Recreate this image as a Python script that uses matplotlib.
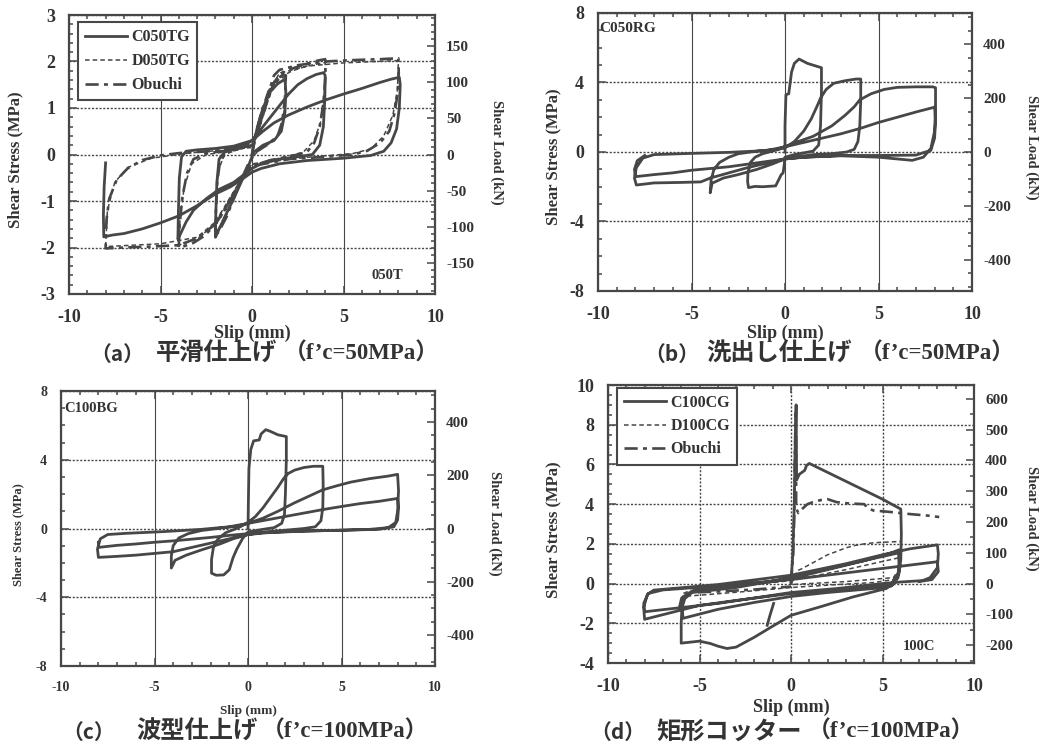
import numpy as np
import matplotlib
matplotlib.use('Agg')
import matplotlib.pyplot as plt
from matplotlib.ticker import MultipleLocator, AutoMinorLocator

plt.rcParams['font.family'] = ['Liberation Serif', 'Noto Sans CJK JP']
plt.rcParams['font.weight'] = 'bold'
plt.rcParams['axes.unicode_minus'] = False

LINE = '#474747'
TEXT = '#333333'
KN_PER_MPA = 64.5  # shear load / shear stress

# (a) smooth finish, f'c=50MPa  -- (slip mm, stress MPa)
a_c050tg = [(0,0),(0.1,0.25),(0.3,0.6),(0.6,1.0),(1.0,1.35),(1.4,1.52),(1.8,1.62),(1.85,1.35),(1.8,0.9),(1.6,0.5),(1.2,0.3),(0.6,0.2),(0.1,0.05),(-0.2,-0.25),
            (-0.6,-0.6),(-1.0,-0.95),(-1.5,-1.35),(-1.85,-1.65),(-2.0,-1.78),(-1.98,-1.3),(-1.92,-0.6),(-1.8,-0.1),(-1.5,0.05),(-1.0,0.12),(-0.4,0.2),(0,0.3),
            (0.5,0.55),(1.0,0.8),(1.5,1.05),(2.0,1.3),(2.5,1.5),(3.0,1.63),(3.5,1.72),(3.9,1.76),(4.0,1.7),(3.98,1.2),(3.9,0.6),(3.7,0.2),(3.3,0.0),(2.5,-0.05),(1.5,-0.1),(0.5,-0.2),(0,-0.3),
            (-0.5,-0.45),(-1.0,-0.6),(-1.8,-0.75),(-2.5,-0.95),(-3.2,-1.2),(-3.6,-1.45),(-3.9,-1.7),(-4.05,-1.82),(-4.02,-1.2),(-3.97,-0.5),(-3.85,-0.05),(-3.6,0.07),(-3.0,0.1),(-2.0,0.13),(-1.0,0.18),(0,0.3),
            (0.6,0.5),(1.2,0.68),(2.0,0.85),(3.0,1.02),(4.0,1.17),(5.0,1.3),(6.0,1.42),(7.0,1.55),(7.6,1.62),(8.05,1.66),(8.1,1.5),(8.05,1.0),(7.9,0.55),(7.6,0.25),(7.2,0.07),(6.5,-0.02),(5.0,-0.08),(3.0,-0.13),(1.5,-0.2),(0.5,-0.3),(0,-0.38),
            (-0.6,-0.55),(-1.2,-0.7),(-2.0,-0.85),(-3.0,-1.1),(-4.0,-1.32),(-5.0,-1.47),(-6.0,-1.6),(-7.0,-1.7),(-7.6,-1.73),(-8.1,-1.77),(-8.12,-1.3),(-8.08,-0.7),(-8.0,-0.18)]
a_d050tg = [(0,0),(0.3,0.5),(0.7,1.05),(1.1,1.45),(1.5,1.62),(1.85,1.68),(1.82,1.1),(1.6,0.55),(1.2,0.3),(0.5,0.12),(0,-0.05),
            (-0.5,-0.5),(-1.0,-0.95),(-1.5,-1.4),(-2.0,-1.7),(-1.95,-1.0),(-1.85,-0.35),(-1.5,0.0),(-0.8,0.1),(0,0.2),
            (0.5,0.7),(1.0,1.3),(1.5,1.65),(2.2,1.8),(3.0,1.9),(4.0,1.98),(3.95,1.3),(3.75,0.7),(3.4,0.3),(2.8,0.05),(1.5,-0.08),(0,-0.22),
            (-0.7,-0.6),(-1.5,-1.15),(-2.2,-1.55),(-3.0,-1.82),(-4.0,-1.95),(-3.92,-1.3),(-3.7,-0.7),(-3.3,-0.2),(-2.5,0.0),(-1.0,0.08),(0,0.18),
            (0.5,0.75),(1.0,1.4),(1.5,1.75),(3.0,1.9),(5.0,1.97),(8.0,2.02),(7.95,1.4),(7.7,0.85),(7.2,0.4),(6.5,0.12),(5.5,0.02),(3.0,-0.06),(0,-0.2),
            (-1.0,-0.8),(-2.0,-1.45),(-3.0,-1.78),(-5.0,-1.92),(-8.0,-1.98),(-7.9,-1.2),(-7.5,-0.6),(-6.8,-0.28),(-5.5,-0.08),(-3.5,0.03),(0,0.15)]
a_obuchi = [(0,0),(0.2,0.4),(0.5,0.9),(0.9,1.35),(1.3,1.6),(1.7,1.72),(1.85,1.7),(1.8,1.2),(1.65,0.7),(1.4,0.4),(0.8,0.2),(0.2,0.05),(-0.2,-0.2),
            (-0.6,-0.55),(-1.0,-0.95),(-1.4,-1.35),(-1.8,-1.65),(-2.0,-1.75),(-1.97,-1.2),(-1.9,-0.6),(-1.75,-0.15),(-1.4,0.05),(-0.8,0.15),(0,0.25),
            (0.4,0.6),(0.8,1.1),(1.2,1.55),(1.6,1.75),(2.2,1.85),(3.0,1.95),(3.6,2.02),(4.0,2.05),(4.02,1.7),(3.9,1.1),(3.7,0.6),(3.4,0.25),(3.0,0.05),(2.0,-0.05),(1.0,-0.12),(0,-0.25),
            (-0.5,-0.5),(-1.0,-0.85),(-1.5,-1.2),(-2.0,-1.5),(-2.6,-1.75),(-3.2,-1.9),(-3.7,-1.97),(-4.0,-2.0),(-3.95,-1.5),(-3.8,-0.9),(-3.55,-0.4),(-3.2,-0.1),(-2.5,0.02),(-1.5,0.08),(0,0.2),
            (0.4,0.6),(0.8,1.2),(1.2,1.7),(1.5,1.82),(2.5,1.92),(4.0,2.0),(5.5,2.03),(7.0,2.05),(8.0,2.07),(8.02,1.75),(7.95,1.3),(7.8,0.9),(7.5,0.5),(7.0,0.25),(6.3,0.08),(5.5,0.0),(4.0,-0.05),(2.0,-0.1),(0,-0.25),
            (-0.5,-0.5),(-1.0,-0.85),(-1.5,-1.2),(-2.0,-1.5),(-3.0,-1.8),(-4.0,-1.95),(-5.5,-1.98),(-7.0,-2.0),(-8.0,-2.02),(-7.95,-1.4),(-7.8,-0.95),(-7.4,-0.55),(-6.8,-0.3),(-6.0,-0.12),(-5.0,-0.02),(-4.0,0.03),(-2.0,0.08),(0,0.2)]

# (b) exposed aggregate finish, f'c=50MPa
b_c050rg = [(0,0),(0.0,1.5),(0.05,3.3),(0.2,3.35),(0.35,4.6),(0.5,5.1),(0.75,5.35),(1.2,5.1),(1.8,4.9),(1.95,4.85),(1.95,3.5),(1.9,1.5),(1.8,0.4),(1.5,0.05),(1.0,-0.05),(0.5,-0.15),(0,-0.3),(-0.05,-0.8),(-0.1,-1.2),
            (-0.2,-1.3),(-0.5,-1.95),(-1.2,-2.0),(-1.6,-1.98),(-1.95,-2.05),(-2.0,-1.7),(-1.98,-1.2),(-1.85,-0.6),(-1.6,-0.3),(-1.2,-0.1),(-0.5,0.1),(0,0.25),
            (0.5,0.6),(1.0,1.2),(1.4,1.9),(1.7,2.6),(1.9,3.1),(2.2,3.6),(2.6,3.95),(3.2,4.1),(3.8,4.2),(4.05,4.2),(4.05,3.0),(4.0,1.5),(3.9,0.6),(3.7,0.15),(3.3,0.0),(2.5,-0.1),(1.5,-0.15),(0.5,-0.3),(0,-0.4),
            (-0.7,-0.7),(-1.5,-1.0),(-2.5,-1.3),(-3.3,-1.5),(-3.9,-1.8),(-4.0,-2.35),(-3.95,-1.6),(-3.8,-1.0),(-3.5,-0.6),(-3.0,-0.3),(-2.5,-0.1),(-1.5,0.05),(-0.5,0.15),(0,0.3),
            (0.7,0.6),(1.5,0.9),(2.5,1.5),(3.2,2.1),(3.7,2.6),(4.0,3.0),(4.6,3.35),(5.3,3.6),(6.0,3.72),(7.0,3.75),(7.9,3.75),(8.05,3.7),(8.05,2.5),(8.0,1.2),(7.8,0.2),(7.4,-0.3),(6.8,-0.48),(6.0,-0.4),(5.0,-0.3),(3.0,-0.22),(1.0,-0.3),(0,-0.4),
            (-1.0,-0.65),(-2.0,-0.9),(-3.0,-1.2),(-4.0,-1.5),(-4.5,-1.72),(-5.5,-1.75),(-7.0,-1.78),(-7.95,-1.9),(-8.05,-1.5),(-7.95,-0.9),(-7.6,-0.35),(-7.0,-0.15),(-5.0,-0.08),(-3.0,-0.02),(-1.0,0.08),(0,0.3),
            (1.0,0.55),(2.0,0.8),(3.0,1.05),(4.0,1.35),(5.0,1.7),(6.0,2.0),(7.0,2.3),(8.0,2.58),(8.05,1.8),(8.0,0.8),(7.8,0.1),(7.0,-0.18),(5.0,-0.2),(3.0,-0.2),(1.0,-0.3),(0,-0.4),
            (-1.0,-0.55),(-2.0,-0.7),(-3.0,-0.85),(-4.0,-0.95),(-5.0,-1.05),(-6.0,-1.2),(-7.0,-1.3),(-8.0,-1.42),(-8.05,-1.0),(-7.9,-0.5),(-7.5,-0.2)]

# (c) wave finish, f'c=100MPa
c_c100bg = [(0,0),(0.02,1.5),(0.05,3.5),(0.15,4.6),(0.3,5.1),(0.6,5.15),(0.7,5.5),(0.95,5.75),(1.2,5.65),(1.6,5.45),(2.05,5.35),(2.05,4.0),(2.0,2.0),(1.95,0.8),(1.8,0.3),(1.4,0.05),(0.8,-0.05),(0,-0.2),
            (-0.3,-0.6),(-0.6,-1.2),(-0.8,-1.7),(-1.0,-2.4),(-1.3,-2.7),(-1.7,-2.72),(-1.95,-2.6),(-1.95,-1.8),(-1.85,-1.1),(-1.6,-0.6),(-1.2,-0.25),(-0.5,0.05),(0,0.35),
            (0.4,0.7),(0.8,1.2),(1.2,1.8),(1.6,2.4),(1.9,2.9),(2.15,3.2),(2.5,3.4),(3.0,3.55),(3.5,3.62),(4.0,3.62),(4.02,2.5),(4.0,1.2),(3.9,0.45),(3.6,0.1),(3.0,0.0),(2.0,-0.1),(1.0,-0.2),(0,-0.35),
            (-0.8,-0.6),(-1.5,-0.9),(-2.5,-1.25),(-3.3,-1.55),(-3.9,-1.85),(-4.1,-2.3),(-4.1,-1.6),(-4.0,-1.0),(-3.7,-0.55),(-3.2,-0.3),(-2.5,-0.12),(-1.5,0.02),(-0.5,0.15),(0,0.3),
            (0.8,0.6),(1.6,1.0),(2.5,1.5),(3.3,1.9),(4.0,2.25),(4.8,2.5),(5.5,2.7),(6.5,2.9),(7.5,3.05),(8.0,3.15),(8.05,2.2),(8.0,1.0),(7.9,0.35),(7.5,0.05),(6.5,-0.05),(5.0,-0.1),(3.0,-0.15),(1.0,-0.25),(0,-0.35),
            (-1.0,-0.6),(-2.0,-0.85),(-3.0,-1.1),(-4.0,-1.35),(-5.0,-1.45),(-6.0,-1.55),(-7.0,-1.62),(-8.0,-1.68),(-8.05,-1.2),(-7.9,-0.6),(-7.5,-0.35),(-6.5,-0.28),(-4.5,-0.18),(-2.5,-0.05),(-1.0,0.1),(0,0.3),
            (1.0,0.5),(2.0,0.7),(3.0,0.9),(4.0,1.1),(5.0,1.28),(6.0,1.45),(7.0,1.58),(8.0,1.75),(8.05,1.2),(8.0,0.5),(7.8,0.1),(7.0,-0.05),(5.0,-0.1),(3.0,-0.15),(1.0,-0.22),(0,-0.3),
            (-1.0,-0.4),(-2.0,-0.52),(-3.0,-0.62),(-4.0,-0.72),(-5.0,-0.8),(-6.0,-0.9),(-7.0,-0.98),(-8.0,-1.1),(-8.0,-0.8)]

# (d) rectangular cotter, f'c=100MPa
d_c100cg = [(0,0),(0.1,1.5),(0.18,4.0),(0.22,6.5),(0.28,9.0),(0.3,6.0),(0.3,5.2),(0.45,5.5),(0.6,5.6),(0.75,5.7),(0.85,5.95),(1.0,6.05),
            (2.0,5.6),(3.0,5.15),(4.0,4.7),(5.0,4.25),(6.0,3.75),(6.03,2.5),(6.0,1.2),(5.9,0.5),(5.6,0.0),(5.2,-0.25),
            (3.4,-0.67),(1.6,-1.17),(0,-1.6),(-1.1,-2.2),(-2.0,-2.7),(-3.0,-3.2),(-3.5,-3.27),(-4.0,-3.15),(-4.4,-3.02),(-5.0,-2.9),(-5.5,-2.95),(-6.0,-3.0),
            (-6.0,-2.0),(-5.95,-1.0),(-5.75,-0.55),(-5.3,-0.35),(-4.0,-0.2),(-2.0,0.0),(0,0.25),(2.0,0.7),(4.0,1.15),(5.5,1.55),(5.9,1.7),
            (5.92,1.0),(5.85,0.3),(5.5,-0.12),(4.5,-0.25),(2.0,-0.45),(0,-0.65),(-2.0,-0.95),(-4.0,-1.3),(-5.9,-1.75),
            (-5.95,-1.2),(-5.8,-0.75),(-5.4,-0.45),(-3.0,-0.2),(0,0.3),(3.0,0.95),(5.9,1.55),(5.9,0.6),(5.5,0.0),(3.0,-0.3),(0,-0.5),
            (-3.0,-0.85),(-5.0,-1.1),(-6.5,-1.45),(-8.0,-1.8),(-8.05,-1.2),(-7.85,-0.55),(-7.5,-0.33),(-6.5,-0.25),(-4.0,-0.05),(0,0.42),(3.0,1.0),(5.0,1.45),(6.5,1.75),(8.0,1.95),
            (8.05,1.5),(8.0,0.8),(7.6,0.3),(7.2,0.15),(6.0,0.08),(5.0,0.0),(2.5,-0.25),(0,-0.45),(-4.0,-1.0),(-8.0,-1.42),
            (-8.05,-1.0),(-7.8,-0.5),(-7.0,-0.32),(-4.0,-0.12),(0,0.2),(4.0,0.65),(8.0,1.1),(8.05,0.6),(7.7,0.2),(7.0,0.1)]
d_c100cg_tail = [(-1.3,-2.1),(-1.15,-1.6),(-0.95,-1.0)]
d_d100cg = [(0,0),(0.2,0.3),(0.35,0.65),(0.6,0.75),(1.0,0.95),(1.5,1.2),(2.0,1.45),(2.5,1.62),(3.0,1.8),(3.5,1.92),(4.0,2.0),(4.5,2.05),(5.0,2.08),(5.5,2.1),(6.0,2.12),
            (6.0,1.4),(5.95,0.7),(5.6,0.2),(4.5,0.05),(2.5,-0.05),(0,-0.2),(-2.5,-0.4),(-4.5,-0.55),(-5.5,-0.62),(-6.0,-0.7),(-6.0,-1.1),(-5.9,-0.5),(-5.5,-0.35),
            (-3.0,-0.15),(0,0.15),(3.0,0.7),(5.9,1.3),(5.95,0.8),(5.6,0.3),(3.0,0.1),(0,-0.05)]
d_obuchi = [(0,0),(0.12,1.5),(0.18,3.5),(0.2,5.5),(0.23,7.5),(0.26,8.6),(0.28,6.0),(0.28,3.8),(0.4,3.55),(0.6,3.75),(0.9,4.0),(1.2,4.1),(1.6,4.2),(2.0,4.25),
            (2.5,4.1),(3.0,4.05),(3.5,4.02),(4.0,4.0),(4.2,3.8),(4.5,3.68),(5.5,3.6),(6.5,3.5),(7.5,3.42),(8.1,3.35)]
d_obuchi_neg = [(-6.1,-1.2),(-6.0,-0.8),(-5.8,-0.55),(-5.4,-0.45),(-4.0,-0.4),(-2.0,-0.3),(0,-0.15)]

SOLID = dict(color=LINE, lw=2.0, ls='-')
DASH = dict(color=LINE, lw=1.1, ls=(0, (3, 2)))
DASHDOT = dict(color=LINE, lw=1.9, ls=(0, (5, 2, 1.5, 2)))

W, H = 1041, 746
fig = plt.figure(figsize=(W / 100, H / 100), dpi=100)


def px_axes(left, top, right, bottom):
    return fig.add_axes([left / W, 1 - bottom / H, (right - left) / W, (bottom - top) / H])


def draw(ax, pts, style, label=None):
    xy = np.array(pts).T
    ax.plot(xy[0], xy[1], label=label, solid_joinstyle='round', **style)


def setup(ax, ylim, ymaj, ydiv, knmaj, kndiv, fs, rfs):
    ax.set_xlim(-10, 10)
    ax.set_ylim(*ylim)
    ax.xaxis.set_major_locator(MultipleLocator(5))
    ax.xaxis.set_minor_locator(MultipleLocator(1))
    ax.yaxis.set_major_locator(MultipleLocator(ymaj))
    ax.yaxis.set_minor_locator(AutoMinorLocator(ydiv))
    ax.tick_params(which='both', direction='in', top=True, right=False, color=LINE, width=1.1,
                   labelsize=fs, labelcolor=TEXT)
    ax.tick_params(which='major', length=6)
    ax.tick_params(which='minor', length=3)
    ax.tick_params(axis='x', pad=11)
    ax.tick_params(axis='y', pad=10)
    ax.xaxis.grid(True, ls='-', lw=0.8, color=LINE)
    ax.yaxis.grid(True, ls=(0, (1.5, 1.2)), lw=1.0, color=LINE)
    for s in ax.spines.values():
        s.set_linewidth(1.6)
        s.set_color(LINE)
    ax2 = ax.twinx()
    ax2.set_ylim(ylim[0] * KN_PER_MPA, ylim[1] * KN_PER_MPA)
    ax2.yaxis.set_major_locator(MultipleLocator(knmaj))
    ax2.yaxis.set_minor_locator(AutoMinorLocator(kndiv))
    ax2.tick_params(which='both', direction='in', color=LINE, width=1.1, labelsize=rfs, labelcolor=TEXT, pad=8)
    ax2.tick_params(which='major', length=6)
    ax2.tick_params(which='minor', length=3)
    for s in ax2.spines.values():
        s.set_visible(False)
    ax.set_axisbelow(True)
    return ax2


def labels(xl, xs, ys, xr, yr, yslip, fs, rfs, sfs):
    fig.text(xl / W, 1 - ys / H, 'Shear Stress (MPa)', rotation=90, ha='center', va='center', fontsize=fs, color=TEXT)
    fig.text(xr / W, 1 - yr / H, 'Shear Load (kN)', rotation=270, ha='center', va='center', fontsize=rfs, color=TEXT)
    fig.text(xs / W, 1 - yslip / H, 'Slip (mm)', ha='center', va='center', fontsize=sfs, color=TEXT)


def caption(x1, x2, x3, y, tag, title, fc):
    fig.text(x1 / W, 1 - y / H, tag, ha='left', va='center', fontsize=15, color=TEXT, family='Noto Sans CJK JP')
    fig.text(x2 / W, 1 - y / H, title, ha='left', va='center', fontsize=17.5, color=TEXT, family='Noto Sans CJK JP')
    fig.text(x3 / W, 1 - y / H, fc, ha='left', va='center', fontsize=16.5, color=TEXT,
             family=['Liberation Serif', 'Noto Sans CJK JP'])


# (a)
ax = px_axes(69, 15, 435, 294)
setup(ax, (-3, 3), 1, 5, 50, 5, 13, 11)
draw(ax, a_c050tg, SOLID, 'C050TG')
draw(ax, a_d050tg, DASH, 'D050TG')
draw(ax, a_obuchi, DASHDOT, 'Obuchi')
leg = ax.legend(loc='upper left', bbox_to_anchor=(0.025, 0.975), borderaxespad=0, fancybox=False,
                framealpha=1, edgecolor=LINE, fontsize=11.5, handlelength=2.6, labelspacing=0.5,
                borderpad=0.45, handletextpad=0.3)
leg.get_frame().set_linewidth(1.5)
for t in leg.get_texts():
    t.set_color(TEXT)
ax.text(7.4, -2.6, '050T', fontsize=10.5, color=TEXT, ha='center', va='center')
labels(15, 252, 160, 497, 152, 333, 12, 10.5, 13)
caption(90, 156, 284, 354, '（a）', '平滑仕上げ', '（f’c=50MPa）')

# (b)
ax = px_axes(598, 13, 972, 291)
setup(ax, (-8, 8), 4, 4, 200, 4, 13, 11)
draw(ax, b_c050rg, SOLID)
ax.text(-9.95, 7.1, 'C050RG', fontsize=11, color=TEXT, ha='left', va='center')
labels(553, 785, 157, 1032, 147, 333, 12, 10.5, 13)
caption(644, 706, 860, 354, '（b）', '洗出し仕上げ', '（f’c=50MPa）')

# (c)
ax = px_axes(61, 391, 435, 666)
setup(ax, (-8, 8), 4, 4, 200, 4, 10, 11)
draw(ax, c_c100bg, SOLID)
ax.text(-9.8, 7.0, 'C100BG', fontsize=10.5, color=TEXT, ha='left', va='center')
labels(18, 248, 535, 495, 523, 711, 9, 10.5, 9.5)
caption(62, 136, 262, 732, '（c）', '波型仕上げ', '（f’c=100MPa）')

# (d)
ax = px_axes(608, 385, 974, 663)
setup(ax, (-4, 10), 2, 4, 100, 2, 13, 11)
ax.xaxis.grid(True, ls=(0, (1.5, 1.2)), lw=1.0, color=LINE)
draw(ax, d_c100cg, SOLID, 'C100CG')
draw(ax, d_d100cg, DASH, 'D100CG')
draw(ax, d_obuchi, DASHDOT, 'Obuchi')
draw(ax, d_c100cg_tail, SOLID)
draw(ax, d_obuchi_neg, DASHDOT)
leg = ax.legend(loc='upper left', bbox_to_anchor=(0.025, 0.99), borderaxespad=0, fancybox=False,
                framealpha=1, edgecolor=LINE, fontsize=11.5, handlelength=2.6, labelspacing=0.45,
                borderpad=0.45, handletextpad=0.3)
leg.get_frame().set_linewidth(1.5)
for t in leg.get_texts():
    t.set_color(TEXT)
ax.text(7.0, -3.15, '100C', fontsize=10.5, color=TEXT, ha='center', va='center')
labels(553, 791, 530, 1032, 518, 707, 12, 10.5, 13)
caption(590, 656, 808, 732, '（d）', '矩形コッター', '（f’c=100MPa）')

fig.savefig('out.png', dpi=100, facecolor='white')
